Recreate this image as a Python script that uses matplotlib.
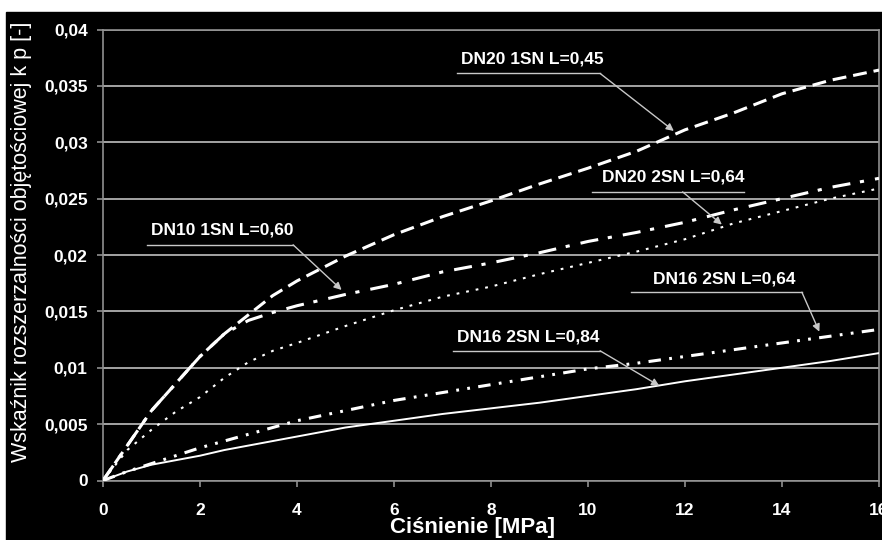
import matplotlib.pyplot as plt
from matplotlib.patches import Rectangle
from matplotlib.ticker import MultipleLocator, FuncFormatter

plt.rcParams['font.family'] = ['Liberation Sans', 'DejaVu Sans']
plt.rcParams['lines.scale_dashes'] = False

# ciśnienie [MPa]
pressure = [0, 0.5, 1, 1.5, 2, 2.5, 3, 3.5, 4, 5, 6, 7, 8, 9, 10, 11, 12, 13, 14, 15, 16]

# wskaźnik k_p dla poszczególnych węży
dn20_1sn_045 = [0, 0.0031, 0.0062, 0.0086, 0.0110, 0.0130, 0.0147, 0.0164, 0.0177, 0.0199, 0.0218,
                0.0234, 0.0248, 0.0263, 0.0277, 0.0292, 0.0311, 0.0326, 0.0343, 0.0355, 0.0364]
dn10_1sn_060 = [0, 0.0031, 0.0062, 0.0086, 0.0110, 0.0130, 0.0142, 0.0149, 0.0155, 0.0165, 0.0174,
                0.0185, 0.0193, 0.0202, 0.0212, 0.0220, 0.0229, 0.0240, 0.0250, 0.0260, 0.0268]
dn20_2sn_064 = [0, 0.0027, 0.0045, 0.0061, 0.0074, 0.0091, 0.0105, 0.0115, 0.0122, 0.0137, 0.0151,
                0.0163, 0.0172, 0.0183, 0.0193, 0.0203, 0.0214, 0.0228, 0.0239, 0.0250, 0.0259]
dn16_2sn_064 = [0, 0.0008, 0.0015, 0.0022, 0.0029, 0.0035, 0.0041, 0.0047, 0.0053, 0.0062, 0.0071,
                0.0078, 0.0085, 0.0092, 0.0099, 0.0104, 0.0110, 0.0116, 0.0122, 0.0128, 0.0134]
dn16_2sn_084 = [0, 0.0008, 0.0014, 0.0018, 0.0022, 0.0027, 0.0031, 0.0035, 0.0039, 0.0047, 0.0053,
                0.0059, 0.0064, 0.0069, 0.0075, 0.0081, 0.0088, 0.0094, 0.0100, 0.0106, 0.0113]

# opisy: tekst, pozycja tekstu, podkreślenie (x0, x1, y), grot strzałki
labels = [
    ('DN20 1SN L=0,45', (7.38, 0.0374), (7.30, 10.25, 0.0361), (11.77, 0.0310)),
    ('DN20 2SN L=0,64', (10.28, 0.0269), (10.08, 13.22, 0.0256), (12.76, 0.0227)),
    ('DN10 1SN L=0,60', (0.99, 0.0222), (0.90, 3.92, 0.0209), (4.92, 0.0169)),
    ('DN16 2SN L=0,64', (11.34, 0.0179), (10.89, 14.41, 0.0167), (14.77, 0.0132)),
    ('DN16 2SN L=0,84', (7.29, 0.0127), (7.21, 10.25, 0.0115), (11.47, 0.0084)),
]
arrow_start_x = [10.25, 11.95, 3.92, 14.41, 10.25]

fig = plt.figure(figsize=(8.82, 5.4), dpi=100, facecolor='white')
fig.add_artist(Rectangle((6 / 882, 0), 1, 528 / 540, transform=fig.transFigure,
                         color='black', zorder=-10))

ax = fig.add_axes([103 / 882, 59.5 / 540, 776 / 882, 451 / 540])
ax.set_facecolor('black')

ax.plot(pressure, dn20_1sn_045, color='white', lw=2.2, dashes=(10, 5), zorder=3)
ax.plot(pressure, dn10_1sn_060, color='white', lw=2.2, dashes=(13, 7, 3, 8), zorder=3)
ax.plot(pressure, dn20_2sn_064, color='white', lw=1.5, dashes=(2, 5), zorder=3)
ax.plot(pressure, dn16_2sn_064, color='white', lw=2.2, dashes=(9, 6, 2, 6, 2, 6), zorder=3)
ax.plot(pressure, dn16_2sn_084, color='white', lw=1.4, zorder=3)

ax.set_xlim(0, 16)
ax.set_ylim(0, 0.04)
ax.xaxis.set_major_locator(MultipleLocator(2))
ax.yaxis.set_major_locator(MultipleLocator(0.005))
ax.yaxis.set_major_formatter(FuncFormatter(lambda v, p: f'{v:g}'.replace('.', ',')))
ax.grid(axis='y', color='#d0d0d0', lw=1.1)
ax.set_axisbelow(True)
for s in ax.spines.values():
    s.set_color('#909090')
    s.set_linewidth(1.2)
ax.tick_params(colors='#909090', length=4, width=1.2)
ax.tick_params(axis='x', pad=12)
ax.tick_params(axis='y', pad=7)
for t in ax.get_xticklabels() + ax.get_yticklabels():
    t.set_color('white')
    t.set_fontweight('bold')
    t.set_fontsize(12.5)

for (txt, tpos, line, tip), sx in zip(labels, arrow_start_x):
    ax.text(tpos[0], tpos[1], txt, color='white', fontsize=12.5, fontweight='bold',
            ha='left', va='center', zorder=5)
    ax.plot([line[0], line[1]], [line[2], line[2]], color='#c8c8c8', lw=1, zorder=4)
    ax.annotate('', xy=tip, xytext=(sx, line[2]),
                arrowprops=dict(arrowstyle='-|>', color='#c8c8c8', lw=1,
                                mutation_scale=11, shrinkA=0, shrinkB=0), zorder=4)

fig.text(22 / 882, 1 - 242 / 540, 'Wskaźnik rozszerzalności objętościowej k p [-]',
         rotation=90, ha='center', va='center', color='white', fontsize=15.5)
fig.text(473 / 882, 1 - 527 / 540, 'Ciśnienie [MPa]', ha='center', va='center',
         color='white', fontsize=16, fontweight='bold')

fig.savefig('out.png', dpi=100, facecolor=fig.get_facecolor())
